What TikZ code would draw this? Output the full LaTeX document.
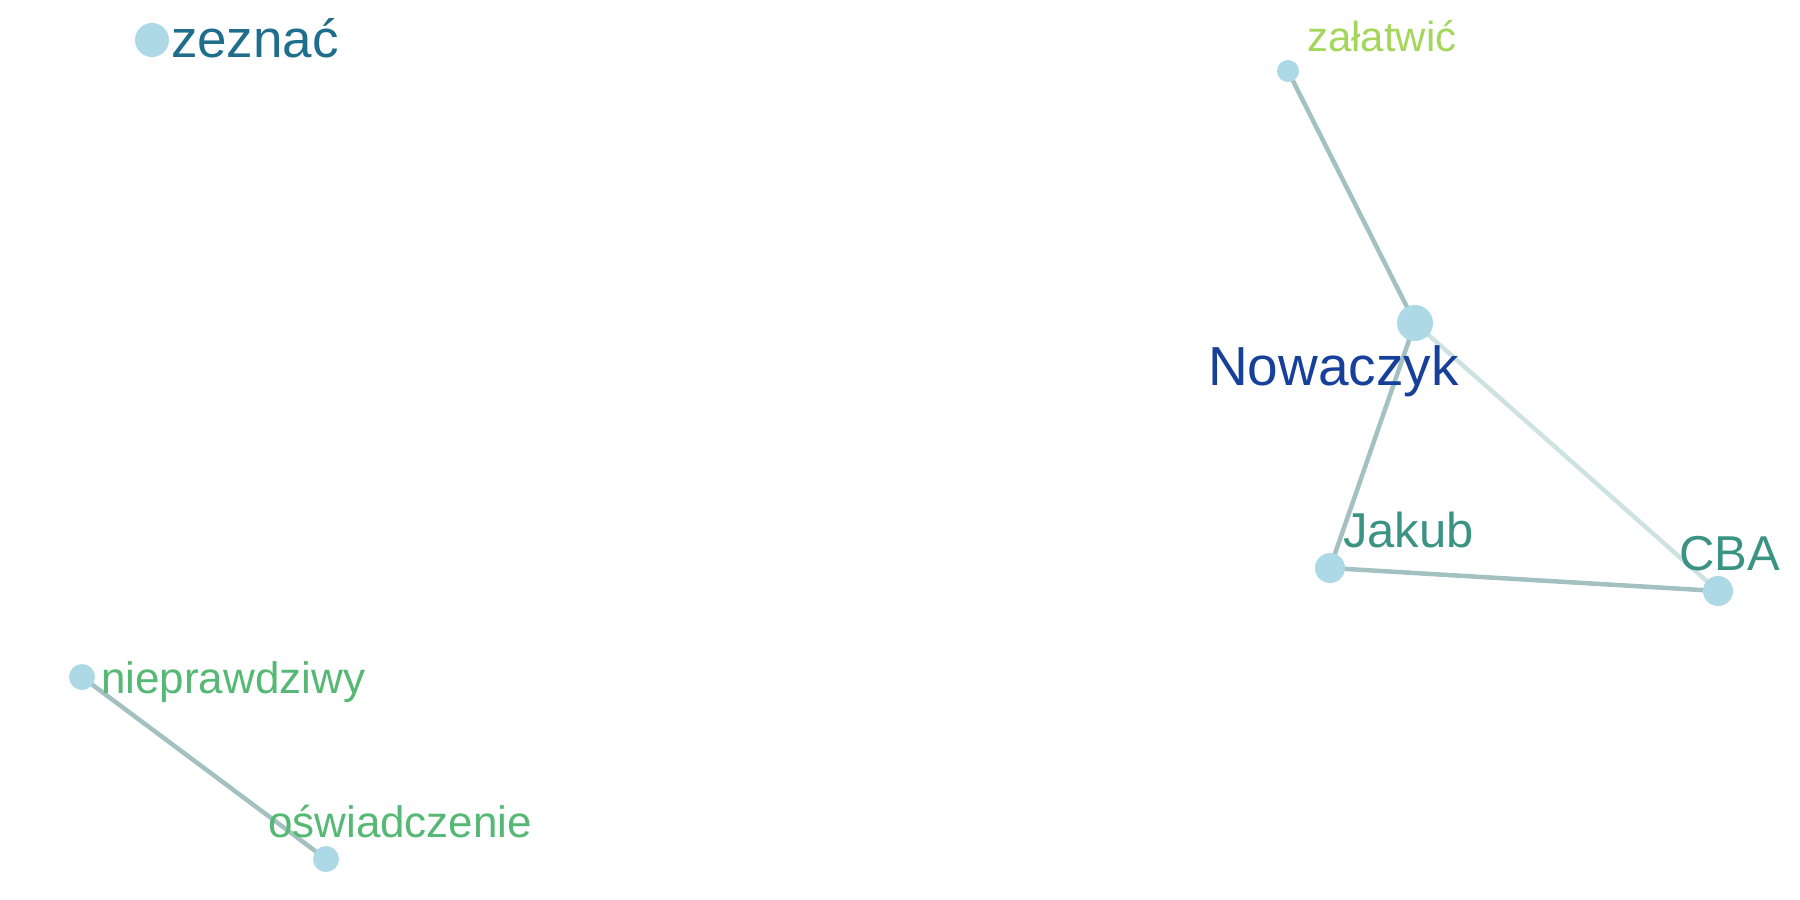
\documentclass[tikz,border=0pt]{standalone}
\usepackage{fontspec}
\setmainfont{Liberation Sans}
\usetikzlibrary{backgrounds}
\definecolor{dotc}{HTML}{ADD8E6}
\definecolor{edgec}{HTML}{A3C1C1}
\definecolor{edgel}{HTML}{CFE2E2}
\definecolor{czez}{HTML}{1F6E8C}
\definecolor{czal}{HTML}{A5D65C}
\definecolor{cnow}{HTML}{17409A}
\definecolor{cjak}{HTML}{3A9383}
\definecolor{cnie}{HTML}{55B874}
\tikzset{
  dot/.style={circle,fill=dotc,draw=none,inner sep=0pt,minimum size=#1},
  lbl/.style={anchor=base west,inner sep=0pt,outer sep=0pt},
  link/.style={draw=edgec,line width=4.5pt},
  linklight/.style={draw=edgel,line width=4.5pt}
}
\newcommand{\fsz}[1]{\fontsize{#1}{#1}\selectfont}
\begin{document}
\begin{tikzpicture}[x=1pt,y=-1pt]
\useasboundingbox (0,0) rectangle (1800,900);
\node[dot=34pt] (zez) at (152,40) {};
\node[dot=22pt] (zal) at (1288,71) {};
\node[dot=36pt] (now) at (1415,323) {};
\node[dot=30pt] (jak) at (1330,568) {};
\node[dot=30pt] (cba) at (1718,591) {};
\node[dot=26pt] (nie) at (82,677) {};
\node[dot=26pt] (osw) at (326,859) {};
\begin{scope}[on background layer]
\draw[link] (now.center) -- (zal.center);
\draw[link] (now.center) -- (jak.center);
\draw[linklight] (now.center) -- (cba.center);
\draw[link] (jak.center) -- (cba.center);
\draw[link] (nie.center) -- (osw.center);
\end{scope}
\node[lbl,text=czez,font=\fsz{53}] (tzez) at (171,57) {zeznać};
\node[lbl,text=czal,font=\fsz{42}] (tzal) at (1307,51) {załatwić};
\node[lbl,text=cnow,font=\fsz{55}] (tnow) at (1208,385) {Nowaczyk};
\node[lbl,text=cjak,font=\fsz{49}] (tjak) at (1343,547) {Jakub};
\node[lbl,text=cjak,font=\fsz{49}] (tcba) at (1679,570) {CBA};
\node[lbl,text=cnie,font=\fsz{44}] (tnie) at (101,693) {nieprawdziwy};
\node[lbl,text=cnie,font=\fsz{44}] (tosw) at (268,837) {oświadczenie};
\end{tikzpicture}
\end{document}
